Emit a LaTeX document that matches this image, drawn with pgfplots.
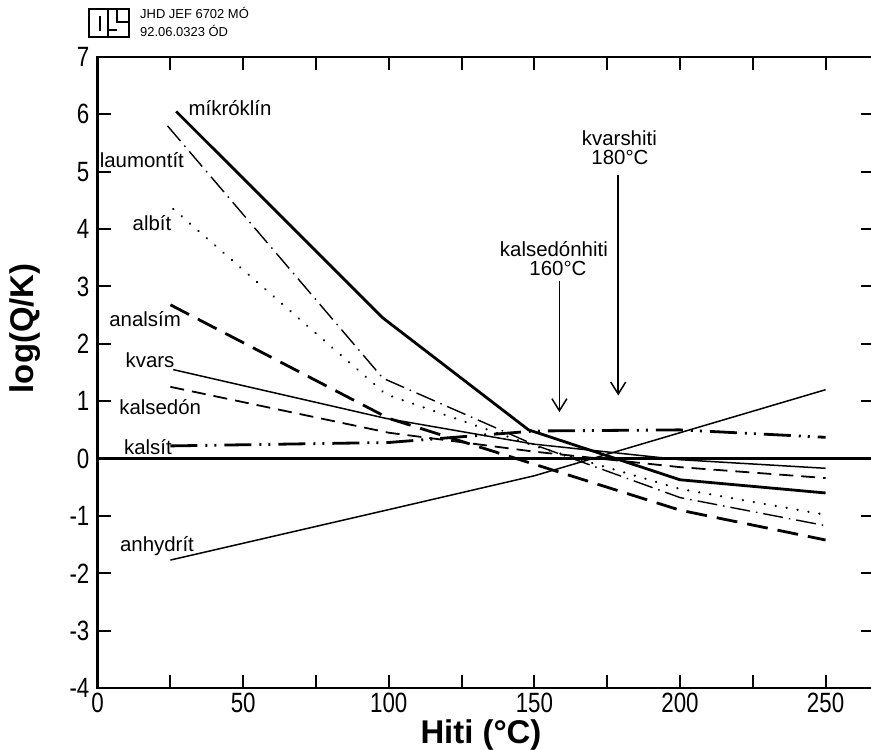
\documentclass[border=0pt]{standalone}
\usepackage{fontspec}
\setmainfont{Liberation Sans}
\newfontfamily\narrow[FakeStretch=0.8]{Liberation Sans}
\usepackage{pgfplots}
\pgfplotsset{compat=1.18}
\usetikzlibrary{arrows.meta}
\begin{document}
\begin{tikzpicture}
\begin{axis}[
  scale only axis, width=776bp, height=631bp,
  xmin=0, xmax=266.5, ymin=-4, ymax=7,
  axis line style={line width=2.5bp},
  xtick={0,25,...,250}, xticklabels={0,,50,,100,,150,,200,,250},
  ytick={-4,-3,...,7}, yticklabels={-4,-3,-2,-1,0,1,2,3,4,5,6,7},
  tick align=inside, major tick length=13bp,
  tick style={line width=2bp, black},
  xticklabel style={font=\narrow\fontsize{28}{28}\selectfont, inner sep=5bp},
  yticklabel style={font=\narrow\fontsize{28}{28}\selectfont, inner sep=8bp},
  xlabel={\bfseries Hiti (°C)}, ylabel={\bfseries log(Q/K)},
  label style={font=\fontsize{33}{33}\selectfont},
  xlabel style={at={(axis description cs:0.494,0)}, anchor=center, yshift=-47bp},
  ylabel style={at={(axis description cs:-0.093,0.57)}, anchor=center},
  clip=false,
  every axis plot/.append style={black},
]
\addplot[line width=2.5bp] coordinates {(0,0) (266.5,0)};
% mikroklin
\addplot[line width=2.8bp] coordinates {(27,6.05) (98,2.45) (148,0.5) (200,-0.37) (250,-0.6)};
% laumontit
\addplot[line width=1.4bp, dash pattern=on 20bp off 6bp on 1.5bp off 6bp] coordinates {(24,5.8) (98,1.4) (150,0.24) (200,-0.68) (250,-1.17)};
% albit
\addplot[line width=2.4bp, line cap=round, dash pattern=on 0.1bp off 11bp] coordinates {(26,4.35) (99,1.12) (150,0.22) (200,-0.53) (250,-0.98)};
% analsim
\addplot[line width=2.8bp, dash pattern=on 21bp off 10bp] coordinates {(25,2.68) (100,0.7) (150,-0.1) (200,-0.9) (250,-1.42)};
% kvars
\addplot[line width=1.5bp] coordinates {(26,1.55) (99,0.7) (150,0.25) (200,-0.02) (250,-0.17)};
% kalsedon
\addplot[line width=1.8bp, dash pattern=on 14bp off 8bp] coordinates {(25,1.25) (100,0.45) (150,0.12) (200,-0.15) (250,-0.34)};
% kalsit
\addplot[line width=2.8bp, dash pattern=on 27bp off 8bp on 2bp off 7bp on 2bp off 8bp] coordinates {(25,0.22) (100,0.28) (150,0.48) (200,0.5) (250,0.37)};
% anhydrit
\addplot[line width=1.5bp] coordinates {(25,-1.77) (100,-0.89) (150,-0.3) (250,1.2)};

\begin{scope}[font=\fontsize{20.5}{20.5}\selectfont]
\node at (axis cs:45.5,6.11) {míkróklín};
\node at (axis cs:15.2,5.21) {laumontít};
\node at (axis cs:18.7,4.1) {albít};
\node at (axis cs:16.3,2.43) {analsím};
\node at (axis cs:18,1.71) {kvars};
\node at (axis cs:21.5,0.89) {kalsedón};
\node at (axis cs:17.3,0.2) {kalsít};
\node at (axis cs:20.4,-1.53) {anhydrít};
\node at (axis cs:156.7,3.65) {kalsedónhiti};
\node at (axis cs:158.1,3.31) {160°C};
\node at (axis cs:179.2,5.58) {kvarshiti};
\node at (axis cs:179.4,5.24) {180°C};
\end{scope}
\draw[line width=1.5bp, -{Straight Barb[length=12bp,width=15bp,line width=1.5bp]}] (axis cs:158.6,3.1) -- (axis cs:158.6,0.81);
\draw[line width=1.5bp, -{Straight Barb[length=12bp,width=15bp,line width=1.5bp]}] (axis cs:178.8,4.95) -- (axis cs:178.8,1.1);
\end{axis}
\begin{scope}[shift={(current axis.north west)}, x=1bp, y=-1bp]
  \node[anchor=west, font=\fontsize{13}{13}\selectfont, inner sep=0pt] at (140-97.6, 13-57) {JHD JEF 6702 MÓ};
  \node[anchor=west, font=\fontsize{13}{13}\selectfont, inner sep=0pt] at (140-97.6, 31-57) {92.06.0323 ÓD};
  \draw[line width=1.4bp] (89-97.6,9-57) rectangle (129-97.6,37-57);
  \draw[line width=1.4bp] (100-97.6,16-57) -- (100-97.6,31-57);
  \draw[line width=1.4bp] (108-97.6,9-57) -- (108-97.6,37-57);
  \draw[line width=1.4bp] (117-97.6,9-57) -- (117-97.6,22-57) -- (129-97.6,22-57);
  \draw[line width=1.4bp] (108-97.6,30-57) -- (117-97.6,30-57);
\end{scope}
\pgfresetboundingbox
\path[use as bounding box, shift={(current axis.north west)}] (-97.6bp,57bp) rectangle (773.4bp,-693bp);
\end{tikzpicture}
\end{document}
